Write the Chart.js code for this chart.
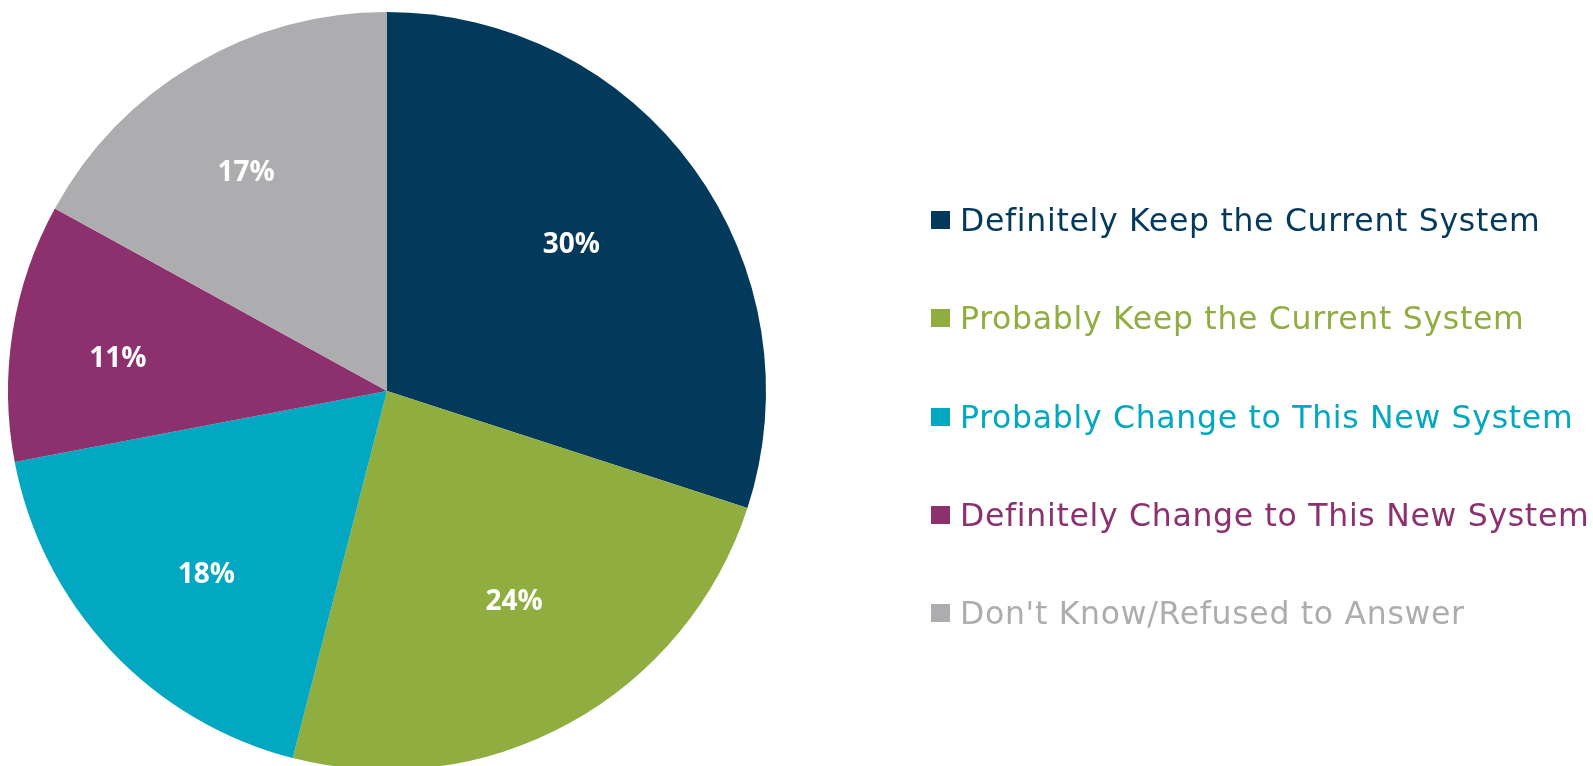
<!DOCTYPE html>
<html>
<head>
<meta charset="utf-8">
<script src="https://cdn.jsdelivr.net/npm/chart.js@4"></script>
<style>
  html, body { margin: 0; padding: 0; background: #ffffff; overflow: hidden; width: 1593px; height: 766px; }
  #wrap { position: absolute; left: 0; top: 0; width: 1593px; height: 780px; }
  #legend { position: absolute; left: 931px; top: 171px; margin: 0; padding: 0; list-style: none;
            font-family: "DejaVu Sans", sans-serif; font-size: 31.5px; letter-spacing: 0.7px; }
  #legend li { display: flex; align-items: center; height: 98.3px; white-space: nowrap; }
  #legend .box { display: inline-block; width: 19px; height: 18px; margin-right: 10px; flex: none; }
</style>
</head>
<body>
<div id="wrap"><canvas id="c" width="1593" height="780"></canvas></div>
<ul id="legend"></ul>
<script>
const categories = [
  "Definitely Keep the Current System",
  "Probably Keep the Current System",
  "Probably Change to This New System",
  "Definitely Change to This New System",
  "Don't Know/Refused to Answer"
];
const shares = [30, 24, 18, 11, 17];
const sliceColors = ["#033A5B", "#8FAE3F", "#02A8C1", "#8C316E", "#ADADAF"];
const labelSuffix = "%";

const pctLabels = {
  id: 'pctLabels',
  afterDatasetsDraw(chart) {
    const ctx = chart.ctx;
    const meta = chart.getDatasetMeta(0);
    const values = chart.data.datasets[0].data;
    ctx.save();
    ctx.fillStyle = '#ffffff';
    ctx.font = 'bold 28px "Open Sans", "DejaVu Sans", sans-serif';
    ctx.textAlign = 'center';
    ctx.textBaseline = 'middle';
    meta.data.forEach((arc, i) => {
      const p = arc.getProps(['x', 'y', 'startAngle', 'endAngle', 'outerRadius', 'circumference'], true);
      const mid = (p.startAngle + p.endAngle) / 2 - 0.04;
      const frac = p.circumference / (2 * Math.PI);
      const r = p.outerRadius * (0.77 - 0.5 * frac);
      ctx.fillText(values[i] + labelSuffix, p.x + Math.cos(mid) * r, p.y + Math.sin(mid) * r);
    });
    ctx.restore();
  }
};

const htmlLegend = {
  id: 'htmlLegend',
  afterUpdate(chart) {
    const ul = document.getElementById('legend');
    ul.innerHTML = '';
    const items = chart.options.plugins.legend.labels.generateLabels(chart);
    items.forEach(item => {
      const li = document.createElement('li');
      const box = document.createElement('span');
      box.className = 'box';
      box.style.background = item.fillStyle;
      const txt = document.createElement('span');
      txt.textContent = item.text;
      txt.style.color = item.fillStyle;
      li.appendChild(box);
      li.appendChild(txt);
      ul.appendChild(li);
    });
  }
};

new Chart(document.getElementById('c'), {
  type: 'pie',
  data: {
    labels: categories,
    datasets: [{
      data: shares,
      backgroundColor: sliceColors,
      borderWidth: 0,
      hoverOffset: 0
    }]
  },
  options: {
    responsive: false,
    devicePixelRatio: 1,
    animation: false,
    layout: { padding: { left: 8, top: 12, right: 827, bottom: 10 } },
    plugins: {
      legend: { display: false },
      tooltip: { enabled: false }
    }
  },
  plugins: [pctLabels, htmlLegend]
});
</script>
</body>
</html>
